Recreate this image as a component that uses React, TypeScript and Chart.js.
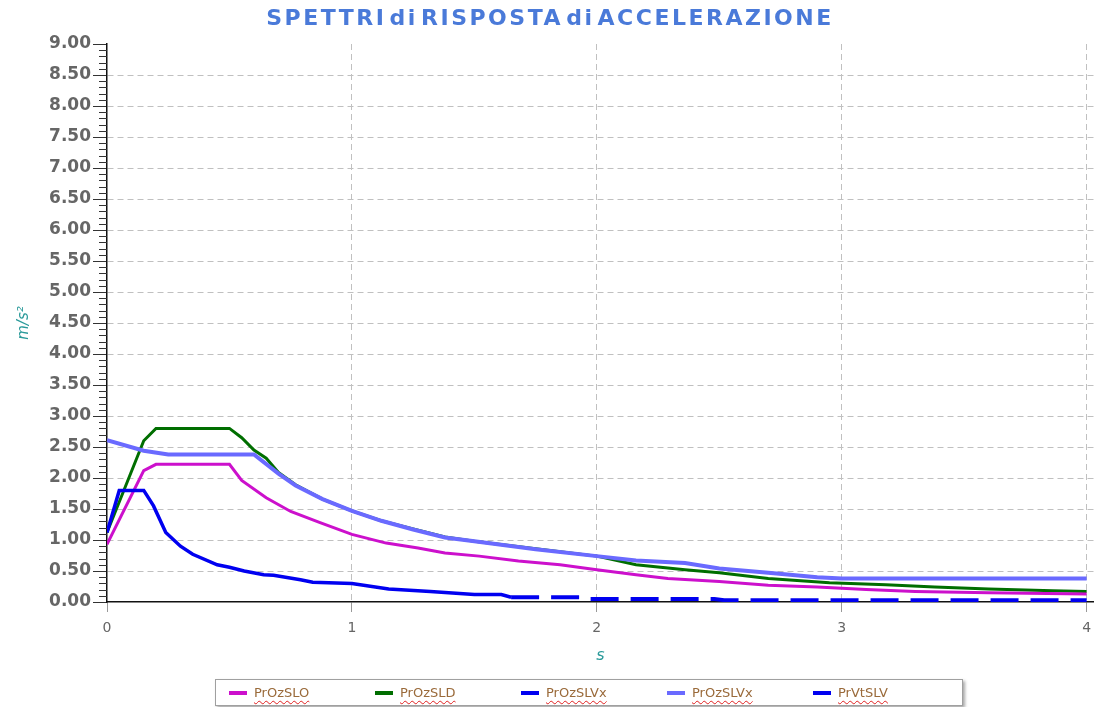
import React, { useEffect, useRef } from "react";
import { Chart, registerables } from "chart.js";
Chart.register(...registerables);

const chartTitle = "SPETTRI di RISPOSTA di ACCELERAZIONE";
const xTitle = "s";
const yTitle = "m/s²";
const xTicks = [0, 1, 2, 3, 4];
const xMax = 4.03;
const yTicks = [0, 0.5, 1, 1.5, 2, 2.5, 3, 3.5, 4, 4.5, 5, 5.5, 6, 6.5, 7, 7.5, 8, 8.5, 9];
const yMinorStep = 0.1;

const seriesNames = ["PrOzSLO", "PrOzSLD", "PrOzSLVx", "PrOzSLVx", "PrVtSLV"];
const seriesColors = ["#cc10cc", "#006e00", "#0000f0", "#6a6aff", "#0000f0"];

// PrOzSLO (magenta)
const sloT = [0, 0.15, 0.2, 0.5, 0.55, 0.65, 0.75, 0.87, 1.0, 1.14, 1.27, 1.38, 1.52, 1.68, 1.85, 2.0, 2.16, 2.29, 2.5, 2.7, 2.9, 3.1, 3.3, 3.6, 4.0];
const sloV = [0.93, 2.12, 2.22, 2.22, 1.96, 1.68, 1.46, 1.28, 1.09, 0.95, 0.87, 0.79, 0.74, 0.66, 0.6, 0.52, 0.44, 0.38, 0.33, 0.27, 0.24, 0.2, 0.17, 0.15, 0.13];

// PrOzSLD (green)
const sldT = [0, 0.15, 0.2, 0.5, 0.55, 0.6, 0.65, 0.7, 0.77, 0.88, 1.0, 1.12, 1.25, 1.38, 1.5, 1.75, 2.0, 2.16, 2.36, 2.5, 2.7, 2.95, 3.18, 3.38, 3.6, 3.86, 4.0];
const sldV = [1.12, 2.6, 2.8, 2.8, 2.65, 2.45, 2.32, 2.09, 1.89, 1.66, 1.47, 1.31, 1.18, 1.05, 0.98, 0.86, 0.74, 0.6, 0.52, 0.47, 0.38, 0.31, 0.28, 0.24, 0.21, 0.18, 0.17];

// PrOzSLVx (dark blue, dashed tail)
const slvxT = [1.65, 1.93, 1.94, 2.48, 2.52, 4.0];
const slvxV = [0.076, 0.076, 0.05, 0.05, 0.03, 0.03];

// PrOzSLVx (light blue)
const slvx2T = [0, 0.15, 0.25, 0.6, 0.7, 0.77, 0.88, 1.0, 1.12, 1.25, 1.38, 1.5, 1.75, 2.0, 2.16, 2.36, 2.5, 2.7, 2.9, 3.0, 4.0];
const slvx2V = [2.61, 2.44, 2.38, 2.38, 2.07, 1.88, 1.66, 1.47, 1.31, 1.17, 1.04, 0.98, 0.85, 0.74, 0.67, 0.63, 0.54, 0.47, 0.4, 0.38, 0.38];

// PrVtSLV (dark blue)
const vtT = [0, 0.05, 0.15, 0.19, 0.24, 0.3, 0.35, 0.45, 0.5, 0.56, 0.64, 0.68, 0.79, 0.84, 1.0, 1.15, 1.32, 1.5, 1.61, 1.65];
const vtV = [1.12, 1.8, 1.8, 1.55, 1.12, 0.9, 0.77, 0.6, 0.56, 0.5, 0.44, 0.43, 0.36, 0.32, 0.3, 0.21, 0.17, 0.12, 0.12, 0.076];

const pts = (t: number[], v: number[]) => t.map((x, i) => ({ x, y: v[i] }));

const minorTicks = {
  id: "minorTicks",
  afterDraw(chart: any) {
    const y = chart.scales.y;
    const ctx = chart.ctx;
    const left = chart.chartArea.left;
    ctx.save();
    ctx.strokeStyle = "#333";
    ctx.lineWidth = 1;
    const n = Math.round(9 / yMinorStep);
    for (let i = 0; i <= n; i++) {
      if (i % 5 === 0) continue;
      const py = Math.round(y.getPixelForValue(i * yMinorStep)) + 0.5;
      ctx.beginPath();
      ctx.moveTo(left - 8, py);
      ctx.lineTo(left, py);
      ctx.stroke();
    }
    ctx.restore();
  },
};

export default function App() {
  const ref = useRef<HTMLCanvasElement>(null);
  useEffect(() => {
    if (!ref.current) return;
    Chart.defaults.font.family = "'DejaVu Sans', Verdana, sans-serif";
    const transparent = "rgba(0,0,0,0)";
    const chart = new Chart(ref.current, {
      type: "line",
      data: {
        datasets: [
          { label: seriesNames[0], data: pts(sloT, sloV), borderColor: seriesColors[0], borderWidth: 3, order: 3 },
          { label: seriesNames[1], data: pts(sldT, sldV), borderColor: seriesColors[1], borderWidth: 3, order: 4 },
          { label: seriesNames[2], data: pts(slvxT, slvxV), borderColor: seriesColors[2], borderWidth: 4, borderDash: [28, 12], order: 1 },
          { label: seriesNames[3], data: pts(slvx2T, slvx2V), borderColor: seriesColors[3], borderWidth: 4, order: 0 },
          { label: seriesNames[4], data: pts(vtT, vtV), borderColor: seriesColors[4], borderWidth: 3.5, order: 2 },
        ].map((d) => ({ ...d, pointRadius: 0, tension: 0, fill: false })),
      },
      options: {
        animation: false,
        responsive: true,
        maintainAspectRatio: false,
        layout: { padding: { left: 11, right: 0, top: 44, bottom: 38 } },
        plugins: { legend: { display: false }, tooltip: { enabled: false }, title: { display: false } },
        scales: {
          x: {
            type: "linear",
            min: 0,
            max: xMax,
            afterBuildTicks: (s: any) => { s.ticks = xTicks.map((v) => ({ value: v })); },
            afterFit: (s: any) => { s.height = 67; s.paddingRight = 0; s.paddingLeft = 0; },
            ticks: { color: "#666", font: { size: 14 }, padding: 8, autoSkip: false, maxRotation: 0, callback: (v: any) => String(v) },
            grid: {
              color: (c: any) => (c.tick && c.tick.value === 0 ? transparent : "#c0c0c0"),
              lineWidth: 1,
              tickColor: "#999",
              tickLength: 10,
            },
            border: { display: true, color: "#111", width: 1.5, dash: [6, 4] },
            title: { display: true, text: xTitle, color: "#2a9a9a", font: { size: 16, style: "italic" }, padding: { top: 2, bottom: 4 } },
          },
          y: {
            type: "linear",
            min: 0,
            max: 9,
            afterBuildTicks: (s: any) => { s.ticks = yTicks.map((v) => ({ value: v })); },
            afterFit: (s: any) => { s.width = 96; },
            ticks: { color: "#666", font: { size: 17, weight: "bold" }, padding: 2, autoSkip: false, callback: (v: any) => Number(v).toFixed(2) },
            grid: {
              color: (c: any) => (c.tick && (c.tick.value === 0 || c.tick.value === 9) ? transparent : "#c0c0c0"),
              lineWidth: 1,
              tickColor: "#333",
              tickLength: 14,
            },
            border: { display: true, color: "#111", width: 1.5, dash: [6, 4] },
            title: { display: true, text: yTitle, color: "#2a9a9a", font: { size: 15, style: "italic" }, padding: { top: 4, bottom: 4 } },
          },
        },
      },
      plugins: [minorTicks],
    } as any);
    return () => chart.destroy();
  }, []);

  return (
    <div style={{ position: "fixed", left: 0, top: 0, width: 1094, height: 707, background: "#fff", overflow: "hidden" }}>
      <div style={{ position: "absolute", left: 0, top: 0, width: 1094, height: 707 }}>
        <canvas ref={ref} />
      </div>
      <div
        style={{
          position: "absolute",
          left: 0,
          top: 5,
          width: 1100,
          textAlign: "center",
          fontFamily: "'DejaVu Sans', Verdana, sans-serif",
          fontWeight: "bold",
          fontSize: 22,
          lineHeight: "26px",
          letterSpacing: "2.5px",
          wordSpacing: "-7px",
          color: "#4a7ad9",
          whiteSpace: "nowrap",
        }}
      >
        {chartTitle}
      </div>
      <div
        style={{
          position: "absolute",
          left: 215,
          top: 679,
          width: 746,
          height: 25,
          border: "1px solid #a0a0a0",
          boxShadow: "2px 2px 3px rgba(0,0,0,0.35)",
          background: "#fff",
          fontFamily: "'DejaVu Sans', Verdana, sans-serif",
          fontSize: 13,
        }}
      >
        {seriesNames.map((n, i) => (
          <div key={i} style={{ position: "absolute", left: 13 + i * 146, top: 0, height: 25, display: "flex", alignItems: "center", whiteSpace: "nowrap" }}>
            <span style={{ display: "inline-block", width: 18, height: 4, background: seriesColors[i], marginRight: 7 }} />
            <span style={{ color: "#9a6a3a", textDecoration: "underline wavy #e02020", textDecorationThickness: "1px", textUnderlineOffset: "3px" }}>{n}</span>
          </div>
        ))}
      </div>
    </div>
  );
}
